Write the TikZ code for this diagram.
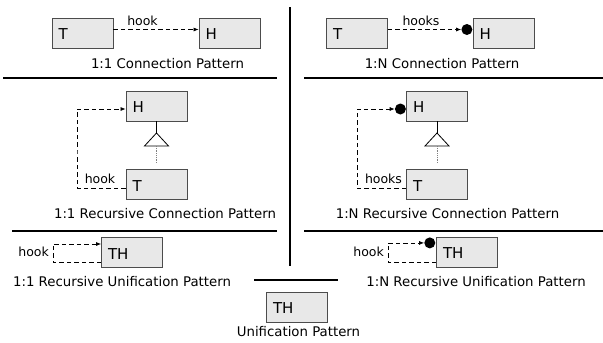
\documentclass[tikz,border=0pt]{standalone}
\usepackage{fontspec}
\setmainfont{DejaVu Sans}
\usepackage{xcolor}
\usepackage{tikz}
\usetikzlibrary{
    arrows.meta
}

\definecolor{boxfill}{gray}{0.91}
\definecolor{boxline}{gray}{0.3}

\tikzset{
    pbox/.style={draw=boxline, fill=boxfill, line width=0.8pt, minimum height=30pt,
        inner xsep=6.5pt, inner ysep=0pt, text width=48pt, align=left,
        text height=13pt, text depth=0pt,
        font=\fontsize{15}{15}\selectfont},
    hookline/.style={line width=0.7pt, dash pattern=on 4.5pt off 3pt,
        -{Latex[length=5pt,width=4pt]}},
    dotend/.style={circle, fill=black, inner sep=0pt, minimum size=11pt},
    hooklabel/.style={anchor=base, inner sep=0pt, font=\fontsize{12.5}{14}\selectfont},
    ptitle/.style={anchor=base, inner sep=0pt, font=\fontsize{13.3}{16}\selectfont},
    divider/.style={line width=2pt},
    genline/.style={line width=0.8pt},
    gentri/.style={line width=0.8pt, fill=white},
    genhint/.style={line width=0.8pt, gray, densely dotted}
}

\begin{document}
\begin{tikzpicture}[x=1pt, y=-1pt]
        \useasboundingbox (0,0) rectangle (603,343);

        \draw [divider] (290,7) -- (290,266);
        \draw [divider] (3,78) -- (277,78);
        \draw [divider] (304,78) -- (603,78);
        \draw [divider] (12,231) -- (277,231);
        \draw [divider] (304,231) -- (603,231);
        \draw [divider] (254,280) -- (338,280);

        % 1:1 connection
        \node[pbox] (t1) at (82.5,33) {T};
        \node[pbox] (h1) at (229.5,33) {H};
        \draw [hookline] ([yshift=3.5pt]t1.east) -- ([yshift=3.5pt]h1.west);
        \node[hooklabel] (l1) at (142.5,25) {hook};
        \node[ptitle] (c1) at (167.5,68) {1:1 Connection Pattern};

        % 1:N connection
        \node[pbox] (t2) at (357,33) {T};
        \node[pbox] (h2) at (503.5,33) {H};
        \node[dotend, anchor=east] (d2) at ([yshift=3.5pt]h2.west) {};
        \draw [hookline] ([yshift=3.5pt]t2.east) -- (d2.west);
        \node[hooklabel] (l2) at (421,25) {hooks};
        \node[ptitle] (c2) at (442,68) {1:N Connection Pattern};

        % 1:1 recursive connection
        \node[pbox] (h3) at (156.5,106) {H};
        \node[pbox] (t3) at (156.5,184.5) {T};
        \coordinate (k3) at (77,150);
        \draw [hookline] ([yshift=-3.5pt]t3.west) -| (k3) |- ([yshift=-3pt]h3.west);
        \coordinate (a3) at (156.5,133);
        \coordinate (b3) at (156.5,146);
        \coordinate (e3) at (156.5,163);
        \draw [genline] (h3.south) -- (a3);
        \draw [gentri] (a3) -- ++(12,13) -- ++(-24,0) -- cycle;
        \draw [genhint] (b3) -- (e3);
        \node[hooklabel] (l3) at (100,183) {hook};
        \node[ptitle] (c3) at (165,218.5) {1:1 Recursive Connection Pattern};

        % 1:N recursive connection
        \node[pbox] (h4) at (437,106) {H};
        \node[pbox] (t4) at (437,184.5) {T};
        \node[dotend, anchor=east] (d4) at ([yshift=-3pt]h4.west) {};
        \coordinate (k4) at (357,150);
        \draw [hookline] ([yshift=-3.5pt]t4.west) -| (k4) |- (d4.west);
        \coordinate (a4) at (437,133);
        \coordinate (b4) at (437,146);
        \coordinate (e4) at (437,163);
        \draw [genline] (h4.south) -- (a4);
        \draw [gentri] (a4) -- ++(12,13) -- ++(-24,0) -- cycle;
        \draw [genhint] (b4) -- (e4);
        \node[hooklabel] (l4) at (383.5,183) {hooks};
        \node[ptitle] (c4) at (447.5,218.5) {1:N Recursive Connection Pattern};

        % 1:1 recursive unification
        \node[pbox] (th5) at (132,252.5) {TH};
        \coordinate (k5) at (53,252);
        \draw [hookline] ([yshift=-9.5pt]th5.west) -| (k5) |- ([yshift=8.5pt]th5.west);
        \node[hooklabel, anchor=base east] (l5) at (49,256.7) {hook};
        \node[ptitle] (c5) at (122,286) {1:1 Recursive Unification Pattern};

        % 1:N recursive unification
        \node[pbox] (th6) at (467,252) {TH};
        \node[dotend] (d6) at ([xshift=-6.3pt,yshift=-6.3pt]th6.north west) {};
        \coordinate (k6) at (388,252);
        \draw [hookline] ([yshift=-10pt]th6.west) -| (k6) |- (d6.west);
        \node[hooklabel, anchor=base east] (l6) at (384,256.7) {hook};
        \node[ptitle] (c6) at (476,286) {1:N Recursive Unification Pattern};

        % unification
        \node[pbox] (th7) at (297,307) {TH};
        \node[ptitle] (c7) at (298.5,336) {Unification Pattern};
\end{tikzpicture}
\end{document}
